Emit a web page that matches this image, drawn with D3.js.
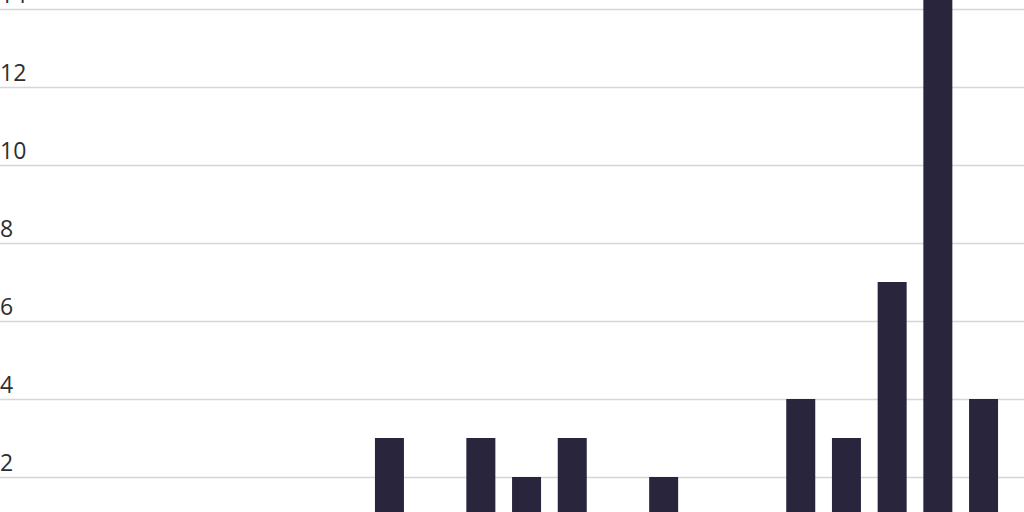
<!DOCTYPE html>
<html>
<head>
<meta charset="utf-8">
<script src="https://cdn.jsdelivr.net/npm/d3@7"></script>
<style>
  html, body { margin: 0; padding: 0; background: #ffffff; }
  svg { display: block; }
</style>
</head>
<body>
<svg id="chart" width="1024" height="512"></svg>
<script>
// Data (x-axis labels are outside the visible crop)
const categories = ["2000","2001","2002","2003","2004","2005","2006","2007","2008","2009","2010",
                    "2011","2012","2013","2014","2015","2016","2017","2018","2019","2020","2021"];
const values = [0,0,0,0,0,0,0,0,3,0,3,2,3,0,2,0,0,4,3,7,15,4];
const yTicks = [2,4,6,8,10,12,14];

const W = 1024, H = 512;
const svg = d3.select("#chart");

const x = d3.scaleBand()
  .domain(categories)
  .range([1, 1006.4])
  .paddingInner(0.3654)
  .paddingOuter(0.1827);

const y = d3.scaleLinear().domain([0, 14]).range([555, 9]);

// gridlines + labels via axis
const yAxis = d3.axisLeft(y)
  .tickValues(yTicks)
  .tickSize(-W)
  .tickFormat(d3.format("d"));

const g = svg.append("g").call(yAxis);
g.select(".domain").remove();
g.selectAll(".tick line")
  .attr("x1", 0).attr("x2", W)
  .attr("stroke", "#d6d6d6")
  .attr("stroke-width", 1.6);
g.selectAll(".tick text")
  .attr("x", 0)
  .attr("dy", "-7px")
  .attr("text-anchor", "start")
  .attr("fill", "#2e2e2e")
  .style("font-family", "'Open Sans', 'Liberation Sans', Arial, sans-serif")
  .style("font-size", "23px");

// bars
svg.append("g").selectAll("rect")
  .data(values.map((v, i) => ({ c: categories[i], v })).filter(d => d.v > 0))
  .join("rect")
  .attr("x", d => x(d.c))
  .attr("width", x.bandwidth())
  .attr("y", d => y(d.v))
  .attr("height", d => y(0) - y(d.v))
  .attr("fill", "#29253d");
</script>
</body>
</html>
